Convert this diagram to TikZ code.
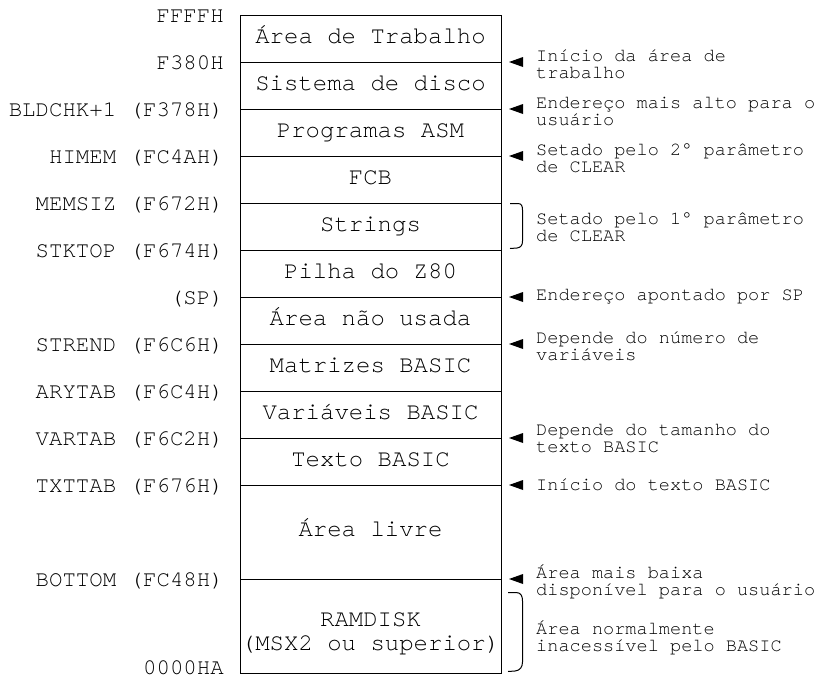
\documentclass[tikz,border=0pt]{standalone}
\usepackage{fontspec}
\setmainfont{texgyrecursor-regular.otf}
\usetikzlibrary{positioning}
\newcommand\memmark[1]{\fill (#1) ++(8,0) -- ++(14,-5) -- ++(0,10) -- cycle;}
\begin{document}
\begin{tikzpicture}[x=1pt,y=-1pt,
  memrow/.style={draw, line width=1pt, minimum width=261pt, minimum height=47pt,
    inner sep=0pt, outer sep=0pt, font=\fontsize{24}{23}\selectfont},
  oneline/.style={text height=0.95em, text depth=0pt},
  addr/.style={anchor=base east, inner sep=0pt, font=\fontsize{22.4}{22}\selectfont},
  note/.style={anchor=west, align=left, inner sep=0pt, font=\fontsize{18.6}{17}\selectfont},
  brace/.style={line width=1pt}]
\useasboundingbox (0,0) rectangle (819,683);

% memory blocks, top to bottom
\node[memrow, oneline] (r1) at (370.5,38.5) {Área de Trabalho};
\node[memrow, oneline, below=0pt of r1] (r2) {Sistema de disco};
\node[memrow, oneline, below=0pt of r2] (r3) {Programas ASM};
\node[memrow, oneline, below=0pt of r3] (r4) {FCB};
\node[memrow, oneline, below=0pt of r4] (r5) {Strings};
\node[memrow, oneline, below=0pt of r5] (r6) {Pilha do Z80};
\node[memrow, oneline, below=0pt of r6] (r7) {Área não usada};
\node[memrow, oneline, below=0pt of r7] (r8) {Matrizes BASIC};
\node[memrow, oneline, below=0pt of r8] (r9) {Variáveis BASIC};
\node[memrow, oneline, below=0pt of r9] (r10) {Texto BASIC};
\node[memrow, oneline, minimum height=94pt, below=0pt of r10] (r11) {Área livre};
\node[memrow, minimum height=94pt, below=0pt of r11] (r12) {};
\node[align=center, inner sep=0pt, font=\fontsize{24}{23.5}\selectfont]
  (r12text) at ([yshift=-8pt]r12.center) {RAMDISK\\(MSX2 ou superior)};

% addresses on the left
\node[addr] (a0) at ([xshift=-16pt,yshift=-7pt]r1.north west) {FFFFH};
\node[addr] (a1) at ([xshift=-16pt,yshift=-7pt]r2.north west) {F380H};
\node[addr] (a2) at ([xshift=-16pt,yshift=-7pt]r3.north west) {BLDCHK+1 (F378H)};
\node[addr] (a3) at ([xshift=-16pt,yshift=-7pt]r4.north west) {HIMEM (FC4AH)};
\node[addr] (a4) at ([xshift=-16pt,yshift=-7pt]r5.north west) {MEMSIZ (F672H)};
\node[addr] (a5) at ([xshift=-16pt,yshift=-7pt]r6.north west) {STKTOP (F674H)};
\node[addr] (a6) at ([xshift=-16pt,yshift=-7pt]r7.north west) {(SP)};
\node[addr] (a7) at ([xshift=-16pt,yshift=-7pt]r8.north west) {STREND (F6C6H)};
\node[addr] (a8) at ([xshift=-16pt,yshift=-7pt]r9.north west) {ARYTAB (F6C4H)};
\node[addr] (a9) at ([xshift=-16pt,yshift=-7pt]r10.north west) {VARTAB (F6C2H)};
\node[addr] (a10) at ([xshift=-16pt,yshift=-7pt]r11.north west) {TXTTAB (F676H)};
\node[addr] (a11) at ([xshift=-16pt,yshift=-7pt]r12.north west) {BOTTOM (FC48H)};
\node[addr] (a12) at ([xshift=-16pt,yshift=-1pt]r12.south west) {0000HA};

% pointer marks on the right
\memmark{r2.north east}
\memmark{r3.north east}
\memmark{r4.north east}
\memmark{r7.north east}
\memmark{r8.north east}
\memmark{r10.north east}
\memmark{r11.north east}
\memmark{r12.north east}

% brackets spanning whole blocks
\draw[brace] (510,203.5) -- (518,203.5) .. controls (521.5,203.5) and (522.5,206) .. (522.5,210)
  -- (522.5,241) .. controls (522.5,245) and (521,247.5) .. (517,248) -- (510,248.5);
\draw[brace] (508,592.5) -- (516,592.5) .. controls (521,592.5) and (522.5,596) .. (522.5,601)
  -- (522.5,662) .. controls (522.5,667) and (520,670.5) .. (515,671) -- (508,671.5);

% notes on the right
\node[note] (n1) at (536,64) {Início da área de\\trabalho};
\node[note] (n2) at (536,111) {Endereço mais alto para o\\usuário};
\node[note] (n3) at (536,158) {Setado pelo 2° parâmetro\\de CLEAR};
\node[note] (n4) at (536,227) {Setado pelo 1° parâmetro\\de CLEAR};
\node[note] (n5) at (536,297) {Endereço apontado por SP};
\node[note] (n6) at (536,346) {Depende do número de\\variáveis};
\node[note] (n7) at (536,439) {Depende do tamanho do\\texto BASIC};
\node[note] (n8) at (536,485) {Início do texto BASIC};
\node[note] (n9) at (536,582) {Área mais baixa\\disponível para o usuário};
\node[note] (n10) at (536,638) {Área normalmente\\inacessível pelo BASIC};
\end{tikzpicture}
\end{document}
